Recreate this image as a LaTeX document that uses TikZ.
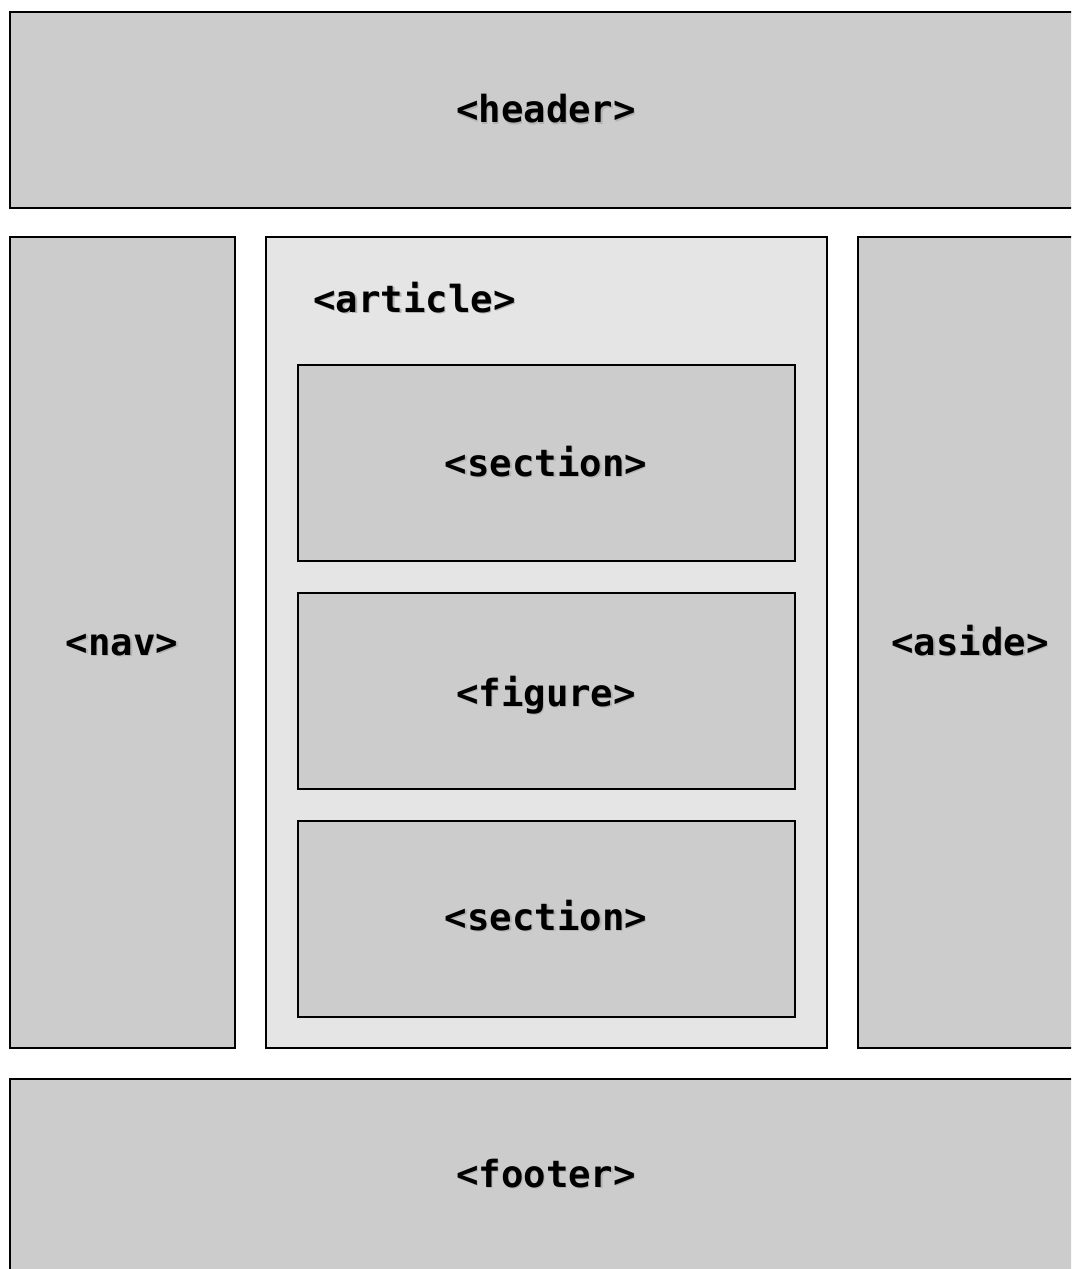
\documentclass[tikz,border=0pt]{standalone}
\usepackage{fontspec}
\setmonofont{DejaVu Sans Mono}
\usepackage{xcolor}
\usetikzlibrary{positioning}

\definecolor{boxgray}{HTML}{CCCCCC}
\definecolor{artgray}{HTML}{E5E5E5}
\newcommand{\tagtxt}[1]{\makebox[0pt][l]{\raisebox{-1pt}{\hspace{1pt}\textcolor{black!30}{#1}}}#1}

\begin{document}
\begin{tikzpicture}[
    x=0.75pt, y=-0.75pt,
    block/.style={draw, line width=1.3pt, fill=boxgray, anchor=north west, inner sep=0pt},
    tag/.style={font=\ttfamily\bfseries\fontsize{28}{30}\selectfont, inner sep=0pt, anchor=base}
]
    \useasboundingbox (0,0) rectangle (1071,1269);
    \clip (0,0) rectangle (1071,1269);
    \fill[white] (0,0) rectangle (1071,1269);

    % Header
    \node[block, minimum width=1075*0.75pt, minimum height=196*0.75pt] (header) at (9,11) {};
    \node[tag] (headertxt) at (546,123) {\tagtxt{<header>}};

    % Nav and aside
    \node[block, minimum width=225*0.75pt, minimum height=811*0.75pt] (nav) at (9,236) {};
    \node[tag] (navtxt) at (122,655) {\tagtxt{<nav>}};
    \node[block, minimum width=220*0.75pt, minimum height=811*0.75pt] (aside) at (857,236) {};
    \node[tag] (asidetxt) at (970,655) {\tagtxt{<aside>}};

    % Article
    \node[block, fill=artgray, minimum width=561*0.75pt, minimum height=811*0.75pt] (article) at (265,236) {};
    \node[tag, anchor=base west] (articletxt) at (313,312) {\tagtxt{<article>}};
    \node[block, minimum width=497*0.75pt, minimum height=196*0.75pt] (secA) at (297,364) {};
    \node[tag] (secAtxt) at (546,476) {\tagtxt{<section>}};
    \node[block, minimum width=497*0.75pt, minimum height=196*0.75pt] (figure) at (297,592) {};
    \node[tag] (figuretxt) at (546,706) {\tagtxt{<figure>}};
    \node[block, minimum width=497*0.75pt, minimum height=196*0.75pt] (secB) at (297,820) {};
    \node[tag] (secBtxt) at (546,930) {\tagtxt{<section>}};

    % Footer
    \node[block, minimum width=1075*0.75pt, minimum height=200*0.75pt] (footer) at (9,1078) {};
    \node[tag] (footertxt) at (546,1187) {\tagtxt{<footer>}};
\end{tikzpicture}
\end{document}
